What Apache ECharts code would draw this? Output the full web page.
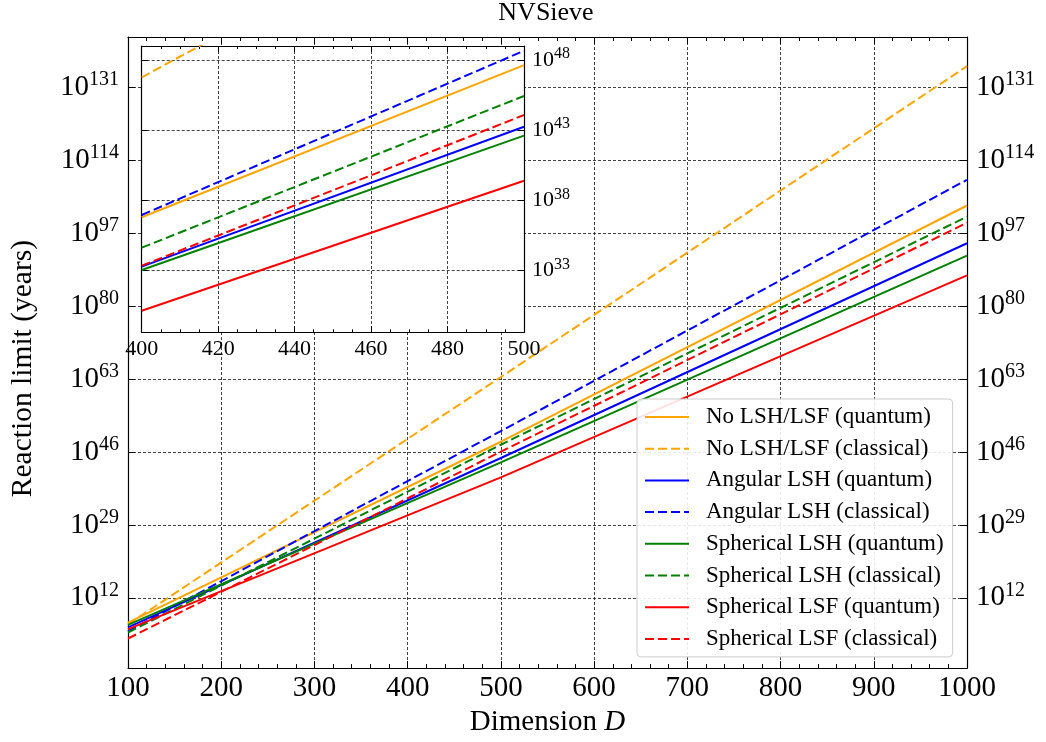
<!DOCTYPE html>
<html>
<head>
<meta charset="utf-8">
<script src="https://cdn.jsdelivr.net/npm/echarts@6/dist/echarts.min.js"></script>
<style>html,body{margin:0;padding:0;background:#fff}#c{width:1046px;height:742px}</style>
</head>
<body>
<div id="c"></div>
<script>
// ---- data (y values are log10 of the reaction limit in years) ----
const seriesNames = [
  'No LSH/LSF (quantum)', 'No LSH/LSF (classical)',
  'Angular LSH (quantum)', 'Angular LSH (classical)',
  'Spherical LSH (quantum)', 'Spherical LSH (classical)',
  'Spherical LSF (quantum)', 'Spherical LSF (classical)'
];
const seriesColors = ['#FFA500', '#FFA500', '#0000FF', '#0000FF', '#008000', '#008000', '#FF0000', '#FF0000'];
const seriesDashed = [false, true, false, true, false, true, false, true];

// main panel: dimension D
const mainX = [100, 500, 1000];
const mainNoQ = [6.2, 48.4, 103.5];
const mainNoC = [5.8, 63.5, 136.0];
const mainAngQ = [5.1, 44.6, 94.7];
const mainAngC = [4.2, 50.9, 109.5];
const mainSphLshQ = [5.7, 43.6, 91.8];
const mainSphLshC = [3.9, 47.7, 100.9];
const mainSphLsfQ = [4.7, 40.1, 87.2];
const mainSphLsfC = [2.5, 46.1, 99.5];

// inset panel
const insetX = [400, 500];
const insNoQ = [36.80, 47.64];
const insNoC = [46.77, 61.5];
const insAngQ = [33.28, 43.25];
const insAngC = [36.96, 48.66];
const insSphLshQ = [33.04, 42.61];
const insSphLshC = [34.63, 45.44];
const insSphLsfQ = [30.14, 39.40];
const insSphLsfC = [33.35, 44.08];

// tick exponents
const mainYTicks = [12, 29, 46, 63, 80, 97, 114, 131];
const insetYTicks = [33, 38, 43, 48];

const mainSets = [mainNoQ, mainNoC, mainAngQ, mainAngC, mainSphLshQ, mainSphLshC, mainSphLsfQ, mainSphLsfC];
const insetSets = [insNoQ, insNoC, insAngQ, insAngC, insSphLshQ, insSphLshC, insSphLsfQ, insSphLsfC];

const FONT = '"Liberation Serif", "DejaVu Serif", serif';

function powLabel(big, small, pad) {
  return {
    b: { fontSize: big, fontFamily: FONT, color: '#000' },
    s: { fontSize: small, fontFamily: FONT, color: '#000', padding: [0, 0, pad, 0] }
  };
}
const gridLine = { show: true, lineStyle: { color: '#111', width: 0.8, type: [3, 2] } };
const axLine = { show: true, onZero: false, lineStyle: { color: '#000', width: 1.2 } };

const series = [];
mainSets.forEach((arr, i) => {
  series.push({
    name: seriesNames[i], type: 'line', xAxisIndex: 0, yAxisIndex: 0,
    data: mainX.map((x, k) => [x, arr[k]]),
    showSymbol: false, symbol: 'none', z: 2,
    lineStyle: { color: seriesColors[i], width: 2, type: seriesDashed[i] ? [9, 4] : 'solid' },
    itemStyle: { color: seriesColors[i] }
  });
});
insetSets.forEach((arr, i) => {
  series.push({
    name: seriesNames[i] + ' ', type: 'line', xAxisIndex: 2, yAxisIndex: 2,
    data: insetX.map((x, k) => [x, arr[k]]),
    showSymbol: false, symbol: 'none', z: 12,
    lineStyle: { color: seriesColors[i], width: 2, type: seriesDashed[i] ? [9, 4] : 'solid' },
    itemStyle: { color: seriesColors[i] }
  });
});

const option = {
  animation: false,
  backgroundColor: '#fff',
  title: {
    text: 'NVSieve', left: 546, top: 0, padding: 0, textAlign: 'center',
    textStyle: { fontFamily: FONT, fontSize: 26, fontWeight: 'normal', color: '#000', lineHeight: 26 }
  },
  legend: {
    data: seriesNames, orient: 'vertical', left: 637, top: 399,
    itemWidth: 44, itemHeight: 12, itemGap: 7.7,
    padding: [6, 9, 6, 7],
    itemStyle: { opacity: 0 },
    backgroundColor: 'rgba(255,255,255,0.88)', borderColor: '#cccccc', borderWidth: 1, borderRadius: 4,
    textStyle: { fontFamily: FONT, fontSize: 23, color: '#000', lineHeight: 24, padding: [0, 0, 0, 12] }
  },
  grid: [
    { left: 125, right: 79, top: 37, bottom: 73, containLabel: false },
    { left: 141.7, top: 46, width: 382.3, height: 286.3, show: true, backgroundColor: '#fff', borderWidth: 0, z: 9 }
  ],
  xAxis: [
    {
      gridIndex: 0, type: 'value', min: 100, max: 1000, interval: 100, position: 'bottom',
      axisLine: axLine,
      axisTick: { show: true, inside: true, length: 7, lineStyle: { color: '#000', width: 1 } },
      minorTick: { show: true, splitNumber: 5, length: 4, lineStyle: { color: '#000', width: 1 } },
      axisLabel: { fontFamily: FONT, fontSize: 29, color: '#000', margin: 6, formatter: v => String(v) },
      splitLine: gridLine,
      name: '{n|Dimension }{i|D}', nameLocation: 'middle', nameGap: 32,
      nameTextStyle: { rich: {
        n: { fontFamily: FONT, fontSize: 29, color: '#000' },
        i: { fontFamily: FONT, fontSize: 29, color: '#000', fontStyle: 'italic' } } }
    },
    {
      gridIndex: 0, type: 'value', min: 100, max: 1000, interval: 100, position: 'top',
      axisLine: axLine,
      axisTick: { show: true, inside: true, length: 7, lineStyle: { color: '#000', width: 1 } },
      minorTick: { show: true, splitNumber: 5, length: 4, lineStyle: { color: '#000', width: 1 } },
      axisLabel: { show: false }, splitLine: { show: false }
    },
    {
      gridIndex: 1, type: 'value', min: 400, max: 500, interval: 20, position: 'bottom', z: 10,
      axisLine: axLine,
      axisTick: { show: true, inside: true, length: 6, lineStyle: { color: '#000', width: 1 } },
      minorTick: { show: true, splitNumber: 4, length: 3, lineStyle: { color: '#000', width: 1 } },
      axisLabel: { fontFamily: FONT, fontSize: 22, color: '#000', margin: 6, formatter: v => String(v) },
      splitLine: gridLine
    },
    {
      gridIndex: 1, type: 'value', min: 400, max: 500, interval: 20, position: 'top', z: 10,
      axisLine: axLine,
      axisTick: { show: true, inside: true, length: 6, lineStyle: { color: '#000', width: 1 } },
      minorTick: { show: true, splitNumber: 4, length: 3, lineStyle: { color: '#000', width: 1 } },
      axisLabel: { show: false }, splitLine: { show: false }
    }
  ],
  yAxis: [
    {
      gridIndex: 0, type: 'value', min: -4.4, max: 142.8, position: 'left',
      axisLine: axLine,
      axisTick: { show: true, inside: true, length: 7, customValues: mainYTicks, lineStyle: { color: '#000', width: 1 } },
      axisLabel: { customValues: mainYTicks, margin: 9, formatter: v => '{b|10}{s|' + v + '}', rich: powLabel(29, 20, 15) },
      splitLine: gridLine,
      name: 'Reaction limit (years)', nameLocation: 'middle', nameGap: 90, nameRotate: 90,
      nameTextStyle: { fontFamily: FONT, fontSize: 29.5, color: '#000', padding: [0, 32, 0, 0] }
    },
    {
      gridIndex: 0, type: 'value', min: -4.4, max: 142.8, position: 'right',
      axisLine: axLine,
      axisTick: { show: true, inside: true, length: 7, customValues: mainYTicks, lineStyle: { color: '#000', width: 1 } },
      axisLabel: { customValues: mainYTicks, margin: 9, formatter: v => '{b|10}{s|' + v + '}', rich: powLabel(29, 20, 15) },
      splitLine: { show: false }
    },
    {
      gridIndex: 1, type: 'value', min: 28.6, max: 49.0, position: 'right', z: 10,
      axisLine: axLine,
      axisTick: { show: true, inside: true, length: 6, customValues: insetYTicks, lineStyle: { color: '#000', width: 1 } },
      axisLabel: { customValues: insetYTicks, margin: 8, formatter: v => '{b|10}{s|' + v + '}', rich: powLabel(22, 16, 12) },
      splitLine: gridLine
    },
    {
      gridIndex: 1, type: 'value', min: 28.6, max: 49.0, position: 'left', z: 10,
      axisLine: axLine,
      axisTick: { show: true, inside: true, length: 6, customValues: insetYTicks, lineStyle: { color: '#000', width: 1 } },
      axisLabel: { show: false }, splitLine: { show: false }
    }
  ],
  series: series
};

const chart = echarts.init(document.getElementById('c'), null, { renderer: 'canvas' });
chart.setOption(option);
</script>
</body>
</html>
